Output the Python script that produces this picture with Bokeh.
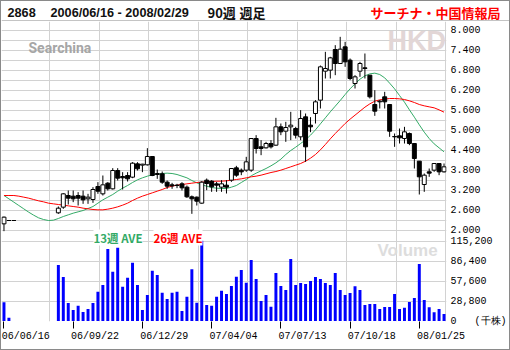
import numpy as np
from bokeh.plotting import figure
from bokeh.models import (Range1d, LinearAxis, Grid, FixedTicker, SingleIntervalTicker,
                          NumeralTickFormatter, Label, BoxAnnotation, ColumnDataSource)
from bokeh.layouts import column
from bokeh.embed import file_html
from bokeh.resources import INLINE

nan = float("nan")

# ---------------- data ----------------
code = "2868"
period = "2006/06/16 - 2008/02/29"
span_txt = "90週"
kind_txt = "週足"
source_txt = "サーチナ・中国情報局"
currency = "HKD"

weeks = list(range(90))
opens = [2.20, 2.30, 2.30, nan, nan, nan, nan, nan, nan, nan,
         nan, 2.53, 2.70, 3.05, 3.03, 3.05, 3.03, 2.95, 2.93, 3.32,
         3.10, 3.42, 3.25, 3.80, 3.62, 3.65, 3.60, 4.00, 3.96, 3.97,
         4.22, 3.68, 3.70, 3.45, 3.37, 3.36, 3.40, 3.30, 3.01, 3.00,
         2.82, 3.51, 3.48, 3.40, 3.30, 3.36, 3.51, 3.88, 3.81, 3.81,
         3.81, 4.76, 4.51, 4.48, 4.61, 4.56, 5.11, 4.98, 5.11, 5.06,
         4.81, 5.41, 5.16, 5.51, 5.91, 6.78, 6.81, 7.43, 7.01, 7.51,
         7.11, 6.41, 6.78, 6.88, 6.66, 5.78, 5.86, 6.01, 5.78, 4.82,
         4.84, 4.76, 4.91, 4.61, 4.08, 3.38, 3.76, 3.81, 4.01, 3.76]
highs = [2.42, 2.30, 2.30, nan, nan, nan, nan, nan, nan, nan,
         nan, 2.72, 3.12, 3.20, 3.20, 3.15, 3.20, 3.10, 3.30, 3.45,
         3.65, 3.45, 3.87, 3.87, 3.75, 3.75, 4.05, 4.05, 4.00, 4.47,
         4.22, 3.83, 3.77, 3.50, 3.43, 3.40, 3.45, 3.35, 3.05, 3.02,
         3.48, 3.56, 3.51, 3.46, 3.51, 3.51, 3.86, 3.94, 3.86, 4.21,
         4.76, 4.86, 4.71, 4.66, 4.71, 5.38, 5.21, 5.26, 5.56, 5.11,
         5.61, 5.51, 5.40, 5.91, 6.95, 7.36, 7.21, 7.56, 7.81, 7.66,
         7.16, 6.66, 7.06, 7.31, 6.66, 6.21, 5.91, 6.16, 5.78, 4.91,
         5.06, 5.11, 4.94, 4.61, 4.08, 3.71, 3.86, 4.01, 4.01, 4.01]
lows = [1.98, 2.30, 2.30, nan, nan, nan, nan, nan, nan, nan,
        nan, 2.50, 2.65, 2.78, 2.85, 2.75, 2.80, 2.80, 2.83, 3.10,
        3.05, 3.20, 3.23, 3.50, 3.23, 3.47, 3.57, 3.80, 3.75, 3.95,
        3.63, 3.55, 3.40, 3.25, 3.25, 3.27, 3.20, 2.98, 2.50, 2.75,
        2.80, 3.21, 3.16, 3.16, 3.16, 3.11, 3.46, 3.61, 3.66, 3.76,
        3.76, 4.31, 4.26, 4.46, 4.46, 4.54, 4.86, 4.66, 4.71, 4.76,
        4.71, 4.06, 4.95, 5.21, 5.66, 6.56, 6.56, 6.66, 7.01, 6.91,
        6.51, 6.26, 6.61, 6.56, 5.96, 5.44, 5.66, 5.66, 4.81, 4.51,
        4.61, 4.61, 4.56, 3.86, 3.08, 3.16, 3.61, 3.76, 3.66, 3.74]
closes = [2.40, 2.30, 2.30, nan, nan, nan, nan, nan, nan, nan,
          nan, 2.67, 3.10, 2.97, 2.95, 2.97, 2.92, 3.00, 3.23, 3.18,
          3.37, 3.25, 3.80, 3.57, 3.58, 3.55, 4.02, 3.85, 3.99, 4.22,
          3.65, 3.71, 3.45, 3.33, 3.34, 3.35, 3.28, 3.01, 2.95, 2.88,
          3.45, 3.41, 3.31, 3.36, 3.40, 3.30, 3.86, 3.66, 3.76, 4.06,
          4.76, 4.46, 4.46, 4.61, 4.51, 5.11, 4.96, 5.09, 5.16, 4.86,
          5.36, 4.51, 5.11, 5.86, 6.91, 6.86, 7.18, 7.01, 7.44, 7.06,
          6.56, 6.61, 7.01, 6.86, 6.01, 5.58, 5.88, 5.86, 4.98, 4.81,
          4.78, 4.96, 4.61, 4.16, 3.61, 3.66, 3.72, 4.01, 3.76, 3.91]
ma13 = [3.05, 2.95, 2.85, 2.75, 2.65, 2.55, 2.46, 2.38, 2.33, 2.30,
        2.31, 2.36, 2.42, 2.47, 2.52, 2.56, 2.60, 2.66, 2.72, 2.82,
        2.92, 3.00, 3.08, 3.18, 3.27, 3.35, 3.44, 3.52, 3.58, 3.63,
        3.67, 3.69, 3.71, 3.72, 3.71, 3.68, 3.63, 3.58, 3.50, 3.43,
        3.37, 3.33, 3.29, 3.27, 3.26, 3.26, 3.30, 3.35, 3.44, 3.53,
        3.64, 3.72, 3.79, 3.86, 3.94, 4.03, 4.14, 4.28, 4.40, 4.50,
        4.61, 4.72, 4.86, 5.02, 5.20, 5.38, 5.56, 5.73, 5.90, 6.08,
        6.25, 6.40, 6.54, 6.64, 6.70, 6.72, 6.68, 6.58, 6.42, 6.25,
        6.05, 5.85, 5.62, 5.40, 5.17, 4.95, 4.76, 4.60, 4.48, 4.36]
ma26 = [3.05, 3.05, 3.05, 3.03, 3.00, 2.97, 2.93, 2.89, 2.86, 2.82,
        2.80, 2.78, 2.76, 2.74, 2.72, 2.70, 2.67, 2.65, 2.63, 2.62,
        2.62, 2.64, 2.67, 2.71, 2.76, 2.82, 2.90, 2.97, 3.03, 3.08,
        3.13, 3.18, 3.23, 3.29, 3.33, 3.36, 3.38, 3.40, 3.42, 3.44,
        3.45, 3.46, 3.47, 3.48, 3.48, 3.49, 3.51, 3.53, 3.55, 3.58,
        3.61, 3.63, 3.66, 3.70, 3.74, 3.77, 3.81, 3.86, 3.91, 3.96,
        4.01, 4.08, 4.17, 4.28, 4.42, 4.58, 4.75, 4.91, 5.06, 5.21,
        5.34, 5.46, 5.58, 5.70, 5.80, 5.88, 5.92, 5.94, 5.96, 5.96,
        5.95, 5.93, 5.89, 5.84, 5.78, 5.74, 5.71, 5.68, 5.62, 5.55]
volume = [27000, 4800, 0, nan, nan, nan, nan, nan, nan, nan,
          nan, 80600, 63400, 26000, 15800, 22000, 13000, 17300, 26000, 42200,
          51800, 103700, 71000, 105600, 49400, 62400, 84000, 51800, 15800, 37400,
          72500, 66200, 40800, 31700, 40800, 42200, 14400, 35000, 74400, 26400,
          115600, 23000, 22100, 35000, 43700, 38900, 50400, 63800, 73400, 55200,
          87800, 60500, 28800, 37400, 20600, 69100, 50400, 44600, 89300, 51800,
          54700, 53300, 57600, 63400, 60500, 54700, 51800, 69100, 44600, 37400,
          40300, 50000, 44600, 23000, 24500, 24500, 17300, 20200, 20200, 38900,
          17300, 19200, 27400, 33100, 82100, 30200, 19700, 12500, 17300, 10000]

price_ticks = [2.0, 2.6, 3.2, 3.8, 4.4, 5.0, 5.6, 6.2, 6.8, 7.4, 8.0]
volume_ticks = [0, 28800, 57600, 86400, 115200]
date_tick_weeks = [0, 14, 28, 42, 56, 70, 84]
date_tick_labels = ["06/06/16", "06/09/22", "06/12/29", "07/04/04",
                    "07/07/13", "07/10/18", "08/01/25"]
ma13_label = "13週 AVE"
ma26_label = "26週 AVE"
volume_title = "Volume"
volume_unit = "(千株)"
logo_text = "Searchina"

# ---------------- styling ----------------
GRID = "#d2d2d2"
BORDER = "#8a8a8a"
MONO = "Liberation Mono"
JP = "Noto Sans CJK JP"
SANS = "Liberation Sans"
W = 508  # inner width (1px CSS border on each side)

# ---------------- header strip ----------------
p0 = figure(frame_width=W, frame_height=20, x_range=Range1d(0, W), y_range=Range1d(20, 0),
            output_backend="svg", toolbar_location=None,
            x_axis_location=None, y_axis_location=None,
            min_border_left=0, min_border_right=0, min_border_top=0, min_border_bottom=0)
p0.outline_line_color = None
p0.xgrid.visible = False
p0.ygrid.visible = False
hdr_lat = dict(text_font=SANS, text_font_style="bold", text_font_size="12.7px",
               text_baseline="middle", text_color="#111111")
hdr_jp = dict(text_font=JP, text_font_style="bold", text_font_size="13px",
              text_baseline="middle")
p0.add_layout(Label(x=6, y=11, text=code, **hdr_lat))
p0.add_layout(Label(x=49, y=11, text=period, **hdr_lat))
p0.add_layout(Label(x=206, y=10.5, text=span_txt, text_color="#111111", **hdr_jp))
p0.add_layout(Label(x=238, y=10.5, text=kind_txt, text_color="#111111", **hdr_jp))
p0.add_layout(Label(x=369, y=10.5, text=source_txt, text_color="#ff0000", **hdr_jp))
p0.add_layout(BoxAnnotation(left=0, right=W, top=19, bottom=20,
                            fill_color=BORDER, fill_alpha=1, line_color=None))

# ---------------- main chart (price + volume share one frame) ----------------
price_range = Range1d(-0.73, 8.27)
vol_range = Range1d(-720, 431280)
x_range = Range1d(-0.5, 89.5)

p = figure(width=W, height=328, x_range=x_range, y_range=price_range,
           output_backend="svg", toolbar_location=None,
           x_axis_location=None, y_axis_location=None,
           min_border_left=0, min_border_right=58, min_border_top=0, min_border_bottom=28)
p.extra_y_ranges = {"vol": vol_range}
p.outline_line_color = None
p.xgrid.visible = False
p.ygrid.visible = False

vgrid_ticks = [9.3 + 10 * k for k in range(9)]
price_grid_ticks = [round(price_ticks[0] + 0.3 * k, 2) for k in range(21)]
p.add_layout(Grid(dimension=0, ticker=FixedTicker(ticks=vgrid_ticks), grid_line_color=GRID))
p.add_layout(Grid(dimension=1, ticker=FixedTicker(ticks=price_grid_ticks),
                  bounds=(price_ticks[0], price_ticks[-1]), grid_line_color=GRID))
p.add_layout(Grid(dimension=1, y_range_name="vol",
                  ticker=SingleIntervalTicker(interval=volume_ticks[1]),
                  bounds=(volume_ticks[1], volume_ticks[-1]), grid_line_color=GRID))

# one right axis carries both the price ticks and the volume ticks
def vol_to_price(v):
    f = (v - vol_range.start) / (vol_range.end - vol_range.start)
    return round(price_range.start + f * (price_range.end - price_range.start), 6)

vol_pos = [vol_to_price(v) for v in volume_ticks]
overrides = {pos: f"{v:,}" for pos, v in zip(vol_pos, volume_ticks)}
overrides[vol_pos[0]] = f"{volume_ticks[0]}\u00a0\u00a0\u00a0{volume_unit}"
yax = LinearAxis(ticker=FixedTicker(ticks=price_ticks + vol_pos),
                 formatter=NumeralTickFormatter(format="0.000"),
                 major_label_overrides=overrides,
                 axis_line_color=None, major_tick_line_color=None, minor_tick_line_color=None,
                 major_tick_out=0, major_tick_in=0, major_label_standoff=4,
                 major_label_text_font=MONO, major_label_text_font_size="10px",
                 major_label_text_color="black")
p.add_layout(yax, "right")

# date axis: tick marks, then left-aligned labels underneath
xticks_ax = LinearAxis(ticker=FixedTicker(ticks=date_tick_weeks),
                       axis_line_color=None, major_tick_line_color="black",
                       minor_tick_line_color=None, major_tick_out=7, major_tick_in=0,
                       major_label_text_color=None, major_label_standoff=0)
p.add_layout(xticks_ax, "below")
label_shift = 4.4  # half a label width, in weeks, so labels start at their tick
lab_pos = [round(w + label_shift, 3) for w in date_tick_weeks]
xlab_ax = LinearAxis(ticker=FixedTicker(ticks=lab_pos),
                     major_label_overrides={pp: t for pp, t in zip(lab_pos, date_tick_labels)},
                     axis_line_color=None, major_tick_line_color=None, minor_tick_line_color=None,
                     major_tick_out=0, major_tick_in=0, major_label_standoff=2,
                     major_label_text_font=MONO, major_label_text_font_size="10px",
                     major_label_text_color="black")
p.add_layout(xlab_ax, "below")

# watermarks
p.add_layout(Label(x=27, y=26, x_units="canvas", y_units="canvas", text=logo_text,
                   text_font="Roboto", text_font_style="bold",
                   text_font_size="14px", text_color="#a6a6a6", text_baseline="middle"))
p.add_layout(Label(x=386, y=19, x_units="canvas", y_units="canvas", text=currency,
                   text_font=SANS, text_font_style="bold",
                   text_font_size="27px", text_color="#e2d6d6", text_baseline="middle"))
p.add_layout(Label(x=376, y=229, x_units="canvas", y_units="canvas", text=volume_title,
                   text_font=SANS, text_font_style="bold",
                   text_font_size="17px", text_color="#dddddd", text_baseline="middle"))

# moving averages
p.line(weeks, ma13, line_color="#33aa66", line_width=1)
p.line(weeks, ma26, line_color="#ff0000", line_width=1)

# candles
o = np.array(opens, dtype=float)
c = np.array(closes, dtype=float)
body_fill = ["white" if (not np.isnan(a) and b >= a) else "black" for a, b in zip(o, c)]
candles = ColumnDataSource(dict(w=weeks, open=opens, close=closes, high=highs,
                                low=lows, fill=body_fill))
p.segment(x0="w", y0="low", x1="w", y1="high", source=candles, line_color="black", line_width=1)
p.vbar(x="w", width=0.8, top="open", bottom="close", source=candles,
       fill_color="fill", line_color="black", line_width=1)

# volume
p.vbar(x=weeks, top=volume, bottom=0, width=0.6, fill_color="#0000ff", line_color=None,
       y_range_name="vol")

# legend of the averages
leg = dict(x_units="canvas", y_units="canvas", text_font=JP, text_font_style="bold",
           text_font_size="11.5px", text_baseline="middle", background_fill_color="white")
p.add_layout(Label(x=92, y=216, text=ma13_label, text_color="#33aa66", **leg))
p.add_layout(Label(x=152, y=216, text=ma26_label, text_color="#ff0000", **leg))

layout = column(p0, p, spacing=0)
layout.styles = {"border": f"1px solid {BORDER}"}
open("out.html", "w").write(file_html(layout, INLINE))
